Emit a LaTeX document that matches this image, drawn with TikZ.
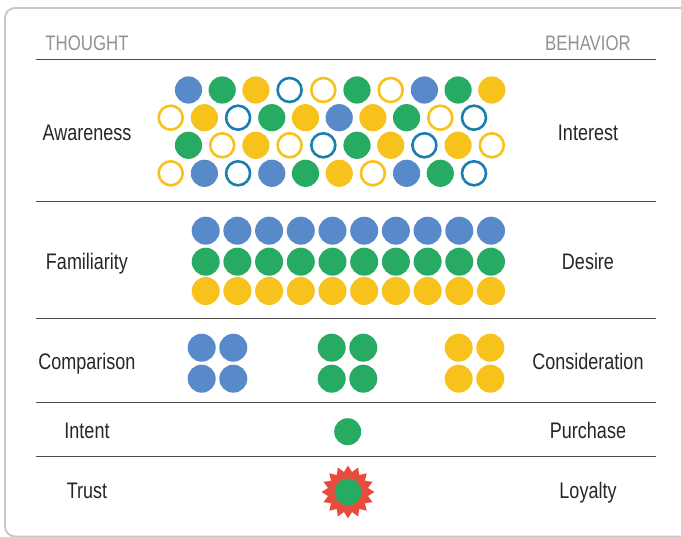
\documentclass[tikz,border=0pt]{standalone}
\usepackage{fontspec}
\setmainfont{Liberation Sans}[FakeStretch=0.8]
\usepackage{tikz}
\usetikzlibrary{shapes.geometric}

\definecolor{dotblue}{HTML}{5889C8}
\definecolor{dotgreen}{HTML}{27AB62}
\definecolor{dotyellow}{HTML}{F8C21C}
\definecolor{ringblue}{HTML}{1A7FAE}
\definecolor{starred}{HTML}{E84C3D}
\definecolor{headgray}{HTML}{8C9297}
\definecolor{labelgray}{HTML}{262626}

\begin{document}
\begin{tikzpicture}[x=1pt, y=-1pt, font=\fontsize{22.5}{26}\selectfont,
    dotb/.style={fill=dotblue, radius=13.6pt}, dotg/.style={fill=dotgreen, radius=13.6pt},
    doty/.style={fill=dotyellow, radius=13.6pt},
    ringb/.style={draw=ringblue, line width=2.6pt, radius=12pt},
    ringy/.style={draw=dotyellow, line width=2.6pt, radius=12pt},
    divider/.style={draw=black!70, line width=1pt},
    head/.style={text=headgray, font=\fontsize{21}{24}\selectfont, text height=0.72em, text depth=0pt, yshift=-3.5pt},
    lbl/.style={text=labelgray, text height=0.72em, text depth=0pt, yshift=-4pt}]
    \useasboundingbox (0, 0) rectangle (681, 537);
    \draw[black!22, line width=1.8pt, rounded corners=10pt] (700, 536.5) -- (5, 536.5) -- (5, 8) -- (700, 8);

    \node[head] (thought) at (87, 43) {THOUGHT};
    \node[head] (behavior) at (588, 43) {BEHAVIOR};

    \draw[divider] (36, 60) -- (656, 60);
    \draw[divider] (36, 202) -- (656, 202);
    \draw[divider] (36, 319) -- (656, 319);
    \draw[divider] (36, 403) -- (656, 403);
    \draw[divider] (36, 457) -- (656, 457);

    \node[lbl] (awareness) at (87, 133) {Awareness};
    \node[lbl] (familiarity) at (87, 262) {Familiarity};
    \node[lbl] (comparison) at (87, 362) {Comparison};
    \node[lbl] (intent) at (87, 431) {Intent};
    \node[lbl] (trust) at (87, 491) {Trust};
    \node[lbl] (interest) at (588, 133) {Interest};
    \node[lbl] (desire) at (588, 262) {Desire};
    \node[lbl] (consideration) at (588, 362) {Consideration};
    \node[lbl] (purchase) at (588, 431) {Purchase};
    \node[lbl] (loyalty) at (588, 491) {Loyalty};

    % awareness: mixed dots and rings, rows offset
    \foreach \s [count=\i from 0] in {dotb,dotg,doty,ringb,ringy,dotg,ringy,dotb,dotg,doty}
        \path[\s] (188.5+33.7*\i, 90) circle;
    \foreach \s [count=\i from 0] in {ringy,doty,ringb,dotg,doty,dotb,doty,dotg,ringy,ringb}
        \path[\s] (170.7+33.7*\i, 117.7) circle;
    \foreach \s [count=\i from 0] in {dotg,ringy,doty,ringy,ringb,dotg,doty,ringb,doty,ringy}
        \path[\s] (188.5+33.7*\i, 145.3) circle;
    \foreach \s [count=\i from 0] in {ringy,dotb,ringb,dotb,dotg,doty,ringy,dotb,dotg,ringb}
        \path[\s] (170.7+33.7*\i, 173.3) circle;

    % familiarity: three full rows
    \foreach \s/\y in {dotb/230.7, dotg/261.7, doty/291}
        \foreach \i in {0,...,9}
            \path[\s, radius=14pt] (205.7+31.7*\i, \y) circle;

    % comparison: 2x2 groups
    \foreach \s/\x in {dotb/201.7, dotg/331.7, doty/458.7}
        \foreach \dx in {0, 31.6}
            \foreach \dy in {0, 31}
                \path[\s, radius=14pt] (\x+\dx, 347.7+\dy) circle;

    \fill[dotgreen] (347.7, 431.7) circle[radius=13.5pt];

    \node[star, star points=16, star point ratio=1.3, fill=starred, minimum size=53pt, inner sep=0pt] (burst) at (348, 492) {};
    \fill[dotgreen] (burst.center) circle[radius=13.5pt];
\end{tikzpicture}
\end{document}
